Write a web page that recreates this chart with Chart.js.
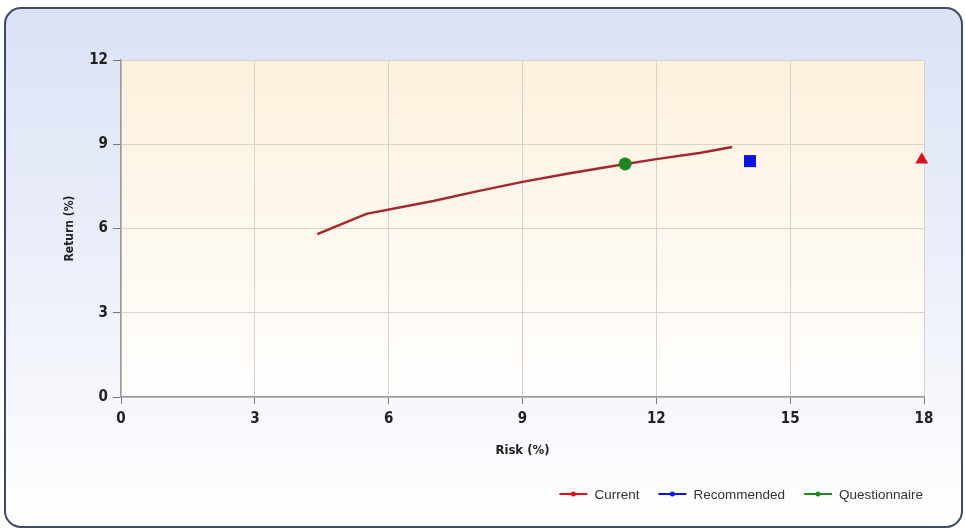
<!DOCTYPE html>
<html>
<head>
<meta charset="utf-8">
<script src="https://cdn.jsdelivr.net/npm/chart.js@4"></script>
<style>
  html, body { margin: 0; padding: 0; background: #ffffff; }
  #wrap { width: 965px; height: 532px; }
</style>
</head>
<body>
<div id="wrap"><canvas id="chart" width="965" height="532"></canvas></div>
<script>
// efficient frontier (risk %, return %)
const frontierRisk = [4.4, 5.5, 7.0, 8.0, 9.0, 10.0, 11.0, 12.0, 13.0, 13.7];
const frontierReturn = [5.8, 6.52, 6.98, 7.33, 7.66, 7.95, 8.22, 8.47, 8.7, 8.9];

// portfolio points
const seriesNames = ["Current", "Recommended", "Questionnaire"];
const seriesRisk = [17.95, 14.1, 11.3];
const seriesReturn = [8.45, 8.4, 8.3];
const seriesColors = ["#e0101c", "#0a14e6", "#1a8a1e"];
const seriesShapes = ["triangle", "rect", "circle"];

const xTicks = [0, 3, 6, 9, 12, 15, 18];
const yTicks = [0, 3, 6, 9, 12];

const tickFont = { family: '"Liberation Sans Narrow", "DejaVu Sans Condensed", sans-serif', size: 15, weight: "bold" };
const titleFont = { family: '"Liberation Sans Narrow", "DejaVu Sans Condensed", sans-serif', size: 13, weight: "bold" };

const markerSize = { triangle: 7.5, rect: 8.5, circle: 6.5 };

const datasets = [
  {
    label: "frontier",
    data: frontierRisk.map((r, i) => ({ x: r, y: frontierReturn[i] })),
    showLine: true,
    borderColor: "#a3282e",
    borderWidth: 2.5,
    pointRadius: 0,
    tension: 0,
    order: 5,
  },
];
for (let i = 0; i < seriesNames.length; i++) {
  datasets.push({
    label: seriesNames[i],
    data: [{ x: seriesRisk[i], y: seriesReturn[i] }],
    pointStyle: seriesShapes[i],
    pointRadius: markerSize[seriesShapes[i]],
    backgroundColor: seriesColors[i],
    borderColor: seriesColors[i],
    borderWidth: 0,
    clip: false,
    order: i,
  });
}

// panel background, plot-area gradient and the legend
const decor = {
  id: "decor",
  beforeDraw(chart) {
    const ctx = chart.ctx;
    const W = chart.width, H = chart.height;
    ctx.save();
    ctx.fillStyle = "#ffffff";
    ctx.fillRect(0, 0, W, H);
    const g = ctx.createLinearGradient(0, 8, 0, 528);
    g.addColorStop(0, "#dbe2f5");
    g.addColorStop(0.55, "#eef1fa");
    g.addColorStop(1, "#ffffff");
    ctx.beginPath();
    ctx.roundRect(5, 8, 957, 519, 16);
    ctx.fillStyle = g;
    ctx.fill();
    ctx.lineWidth = 2;
    ctx.strokeStyle = "#3e4b68";
    ctx.stroke();

    const a = chart.chartArea;
    const pg = ctx.createLinearGradient(0, a.top, 0, a.bottom);
    pg.addColorStop(0, "#fdf1dc");
    pg.addColorStop(1, "#ffffff");
    ctx.fillStyle = pg;
    ctx.fillRect(a.left, a.top, a.right - a.left, a.bottom - a.top);
    ctx.restore();
  },
  afterDraw(chart) {
    const ctx = chart.ctx;
    ctx.save();
    ctx.font = '13.5px "Liberation Sans", Arial, sans-serif';
    ctx.textBaseline = "middle";
    const y = 494;
    const lineW = 28, gap = 7, space = 19;
    let widths = seriesNames.map(n => ctx.measureText(n).width);
    let total = widths.reduce((s, w) => s + lineW + gap + w, 0) + space * (seriesNames.length - 1);
    let x = 923 - total;
    for (let i = 0; i < seriesNames.length; i++) {
      ctx.strokeStyle = seriesColors[i];
      ctx.lineWidth = 2;
      ctx.beginPath();
      ctx.moveTo(x, y);
      ctx.lineTo(x + lineW, y);
      ctx.stroke();
      ctx.fillStyle = seriesColors[i];
      ctx.beginPath();
      ctx.arc(x + lineW / 2, y, 2.5, 0, Math.PI * 2);
      ctx.fill();
      ctx.fillStyle = "#333333";
      ctx.fillText(seriesNames[i], x + lineW + gap, y + 1);
      x += lineW + gap + widths[i] + space;
    }
    ctx.restore();
  },
};

new Chart(document.getElementById("chart"), {
  type: "scatter",
  data: { datasets: datasets },
  plugins: [decor],
  options: {
    responsive: false,
    animation: false,
    layout: { padding: { left: 63, top: 60, right: 41, bottom: 74 } },
    plugins: { legend: { display: false }, tooltip: { enabled: false } },
    scales: {
      x: {
        type: "linear",
        min: 0,
        max: 18,
        afterBuildTicks: (s) => { s.ticks = xTicks.map(v => ({ value: v })); },
        afterFit: (s) => { s.height = 61; },
        grid: { color: "#d9d2cc", tickLength: 7, tickColor: "#777777" },
        border: { color: "#9a9a9a", width: 1.5 },
        ticks: { color: "#222222", font: tickFont, padding: 6 },
        title: { display: true, text: "Risk (%)", color: "#222222", font: titleFont, padding: { top: 2, bottom: 0 } },
      },
      y: {
        type: "linear",
        min: 0,
        max: 12,
        afterBuildTicks: (s) => { s.ticks = yTicks.map(v => ({ value: v })); },
        afterFit: (s) => { s.width = 58; },
        grid: { color: "#d9d2cc", tickLength: 8, tickColor: "#777777" },
        border: { color: "#9a9a9a", width: 1.5 },
        ticks: { color: "#222222", font: tickFont, padding: 5 },
        title: { display: true, text: "Return (%)", color: "#222222", font: { ...titleFont, size: 12 }, padding: 0 },
      },
    },
  },
});
</script>
</body>
</html>
